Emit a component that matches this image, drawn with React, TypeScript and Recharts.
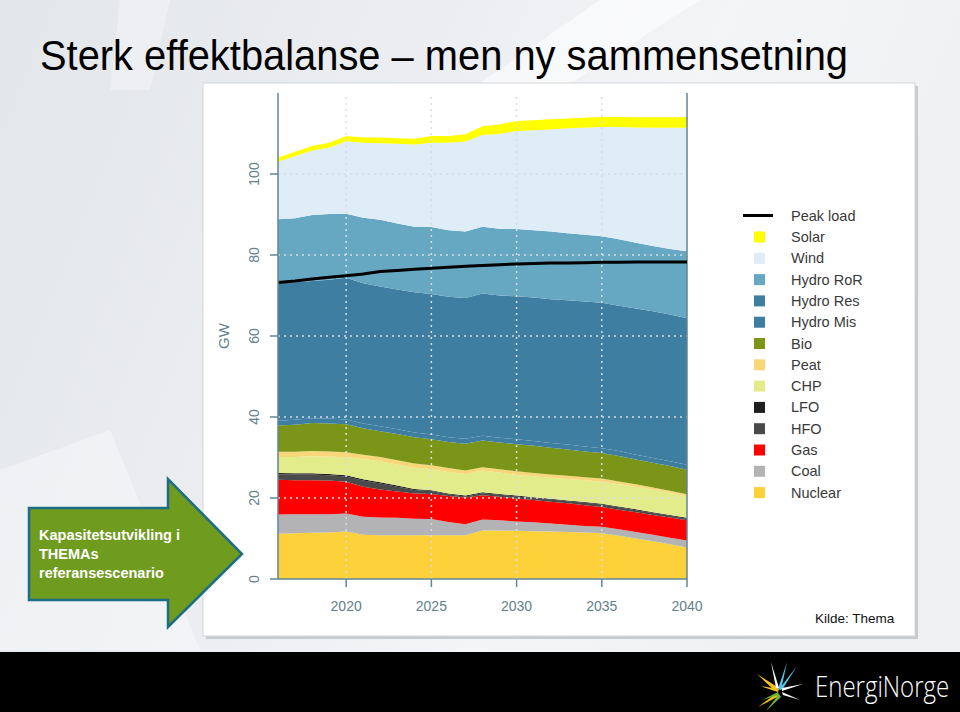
import React from "react";
import { ComposedChart, Area, Line, XAxis, YAxis, ReferenceLine } from "recharts";

const years = [2016, 2017, 2018, 2019, 2020, 2021, 2022, 2023, 2024, 2025, 2026, 2027, 2028, 2029, 2030, 2031, 2032, 2033, 2034, 2035, 2036, 2037, 2038, 2039, 2040];
const nuclear = [11.2, 11.3, 11.4, 11.5, 11.7, 10.9, 10.8, 10.8, 10.8, 10.8, 10.8, 10.8, 12.0, 12.0, 11.9, 11.8, 11.7, 11.6, 11.5, 11.3, 10.7, 10.0, 9.3, 8.6, 7.8];
const coal = [4.7, 4.7, 4.6, 4.5, 4.5, 4.5, 4.4, 4.3, 4.1, 4.0, 3.3, 2.7, 2.7, 2.5, 2.3, 2.2, 2.0, 1.8, 1.6, 1.6, 1.6, 1.6, 1.6, 1.6, 1.7];
const gas = [8.6, 8.4, 8.4, 8.3, 7.8, 7.4, 6.9, 6.5, 6.2, 6.2, 6.4, 6.6, 6.0, 5.8, 5.7, 5.5, 5.4, 5.3, 5.1, 4.9, 4.8, 4.9, 4.9, 5.0, 5.0];
const hfo = [1.3, 1.4, 1.4, 1.3, 1.3, 1.5, 1.5, 1.2, 0.9, 0.7, 0.4, 0.3, 0.5, 0.5, 0.5, 0.5, 0.5, 0.5, 0.6, 0.6, 0.6, 0.5, 0.5, 0.4, 0.4];
const lfo = [0.4, 0.3, 0.3, 0.3, 0.3, 0.3, 0.3, 0.3, 0.2, 0.2, 0.2, 0.2, 0.2, 0.2, 0.2, 0.2, 0.2, 0.2, 0.2, 0.2, 0.2, 0.2, 0.2, 0.2, 0.2];
const chp = [3.9, 4.0, 4.2, 4.3, 4.5, 5.0, 5.2, 5.2, 5.3, 5.2, 5.3, 5.3, 5.4, 5.3, 5.1, 5.2, 5.2, 5.3, 5.4, 5.4, 5.5, 5.6, 5.6, 5.5, 5.3];
const peat = [1.3, 1.3, 1.3, 1.3, 1.2, 1.1, 1.0, 1.0, 1.0, 1.0, 1.0, 0.9, 0.8, 0.8, 0.9, 0.8, 0.8, 0.8, 0.7, 0.8, 0.7, 0.6, 0.5, 0.5, 0.5];
const bio = [6.5, 6.7, 6.9, 6.9, 6.9, 6.5, 6.4, 6.5, 6.5, 6.4, 6.4, 6.6, 6.6, 6.6, 6.7, 6.7, 6.6, 6.5, 6.4, 6.3, 6.3, 6.1, 6.1, 6.1, 6.1];
const hydroMis = [1.2, 1.2, 1.2, 1.2, 1.2, 1.2, 1.2, 1.2, 1.2, 1.2, 1.2, 1.2, 1.2, 1.2, 1.2, 1.2, 1.2, 1.2, 1.2, 1.2, 1.2, 1.2, 1.2, 1.2, 1.2];
const hydroRes = [33.9, 34.0, 33.9, 34.3, 35.0, 34.6, 34.5, 34.5, 34.6, 34.7, 34.7, 34.8, 35.1, 35.1, 35.3, 35.4, 35.5, 35.6, 35.8, 35.9, 35.9, 36.1, 36.2, 36.2, 36.2];
const hydroRoR = [15.8, 15.8, 16.3, 16.2, 15.8, 16.2, 16.5, 16.3, 16.2, 16.5, 16.4, 16.4, 16.5, 16.5, 16.6, 16.6, 16.7, 16.6, 16.5, 16.4, 16.4, 16.2, 16.1, 16.2, 16.5];
const wind = [14.2, 15.3, 15.9, 16.4, 17.9, 18.5, 18.9, 19.7, 20.3, 20.8, 21.6, 22.2, 22.6, 23.4, 24.2, 24.7, 25.2, 25.9, 26.4, 27.0, 27.7, 28.5, 29.2, 29.9, 30.5];
const solar = [1.0, 1.1, 1.1, 1.2, 1.3, 1.3, 1.4, 1.3, 1.4, 1.7, 1.7, 1.8, 2.2, 2.3, 2.5, 2.5, 2.5, 2.4, 2.5, 2.5, 2.5, 2.5, 2.6, 2.6, 2.6];
const peakLoad = [73.2, 73.6, 74.1, 74.5, 74.9, 75.3, 75.9, 76.2, 76.5, 76.7, 77.0, 77.2, 77.4, 77.6, 77.8, 77.9, 78.0, 78.0, 78.1, 78.2, 78.2, 78.3, 78.3, 78.3, 78.3];

const xTicks = [2020, 2025, 2030, 2035, 2040];
const yTicks = [0, 20, 40, 60, 80, 100];
const gridYears = [2020, 2025, 2030, 2035];
const gridValues = [20, 40, 60, 80, 100];

const seriesKeys = ["nuclear", "coal", "gas", "hfo", "lfo", "chp", "peat", "bio", "hydroMis", "hydroRes", "hydroRoR", "wind", "solar"];
const seriesNames = ["Nuclear", "Coal", "Gas", "HFO", "LFO", "CHP", "Peat", "Bio", "Hydro Mis", "Hydro Res", "Hydro RoR", "Wind", "Solar"];
const seriesColors = ["#fdd13a", "#b3b3b6", "#ff0000", "#4a4a4a", "#1e1e1e", "#e3ec8a", "#f8d77a", "#7a9518", "#3e7fa1", "#3e7fa1", "#66a7c2", "#deedf7", "#ffff00"];
const seriesValues = [nuclear, coal, gas, hfo, lfo, chp, peat, bio, hydroMis, hydroRes, hydroRoR, wind, solar];

const data = years.map((year, i) => {
  const row: any = { year, peakLoad: peakLoad[i] };
  seriesKeys.forEach((k, j) => {
    row[k] = seriesValues[j][i];
  });
  return row;
});

const FONT = "'Liberation Sans', Arial, sans-serif";
const AXIS_COLOR = "#628693";
const TICK_COLOR = "#62808d";
const GRID_COLOR = "#d6dee3";

const YTick = (props: any) => {
  const { x, y, payload } = props;
  return (
    <text
      x={x}
      y={y}
      transform={`rotate(-90 ${x} ${y})`}
      textAnchor="middle"
      fill={TICK_COLOR}
      fontSize={14}
      fontFamily={FONT}
    >
      {payload.value}
    </text>
  );
};

const legendOrder = [12, 11, 10, 9, 8, 7, 6, 5, 4, 3, 2, 1, 0];

export default function App() {
  return (
    <div style={{ position: "absolute", left: 0, top: 0, width: 960, height: 712, overflow: "hidden" }}>
      <svg width={960} height={712} style={{ position: "absolute", left: 0, top: 0 }}>
        <defs>
          <linearGradient id="bg" x1="0" y1="0" x2="1" y2="0.3">
            <stop offset="0" stopColor="#e3e6ea" />
            <stop offset="0.45" stopColor="#eceef1" />
            <stop offset="0.7" stopColor="#f4f5f7" />
            <stop offset="1" stopColor="#eef0f2" />
          </linearGradient>
        </defs>
        <rect x={0} y={0} width={960} height={712} fill="url(#bg)" />
        <polygon points="600,0 700,0 560,90 470,90" fill="#ffffff" opacity={0.55} />
        <polygon points="0,470 110,430 200,650 0,650" fill="#ffffff" opacity={0.35} />
        <polygon points="120,0 170,0 150,90 110,90" fill="#ffffff" opacity={0.3} />
        <text
          x={40}
          y={70}
          fontSize={43}
          fontFamily="'Liberation Sans Narrow', 'Liberation Sans', Arial, sans-serif"
          fill="#000"
          textLength={808}
          lengthAdjust="spacingAndGlyphs"
        >
          Sterk effektbalanse – men ny sammensetning
        </text>
        <rect x={206} y={86} width={712} height={553} fill="#aeb2b6" opacity={0.6} />
        <rect x={203} y={83} width={712} height={553} fill="#ffffff" stroke="#d4d6d8" strokeWidth={1} />
        <text
          x={229}
          y={336}
          transform="rotate(-90 229 336)"
          textAnchor="middle"
          fontSize={15}
          fontFamily={FONT}
          fill={TICK_COLOR}
        >
          GW
        </text>
        {legendOrder.map((idx, r) => {
          const cy = 237 + r * 21.3;
          return (
            <g key={seriesKeys[idx]}>
              <rect x={754} y={cy - 5.5} width={11} height={11} fill={seriesColors[idx]} />
              <text x={791} y={cy + 5} fontSize={14.5} fontFamily={FONT} fill="#3a3a3a">
                {seriesNames[idx]}
              </text>
            </g>
          );
        })}
        <line x1={743} y1={215.5} x2={773} y2={215.5} stroke="#000" strokeWidth={3} />
        <text x={791} y={221} fontSize={14.5} fontFamily={FONT} fill="#3a3a3a">
          Peak load
        </text>
        <text x={815} y={623} fontSize={13.5} fontFamily={FONT} fill="#111">
          Kilde: Thema
        </text>
        <polygon
          points="29,508 168,508 168,479 242,554 168,627 168,600 29,600"
          fill="#6f9b1f"
          stroke="#1d6e84"
          strokeWidth={2.5}
          strokeLinejoin="miter"
        />
        <text fontSize={14.5} fontWeight="bold" fontFamily={FONT} fill="#ffffff">
          <tspan x={39} y={540}>Kapasitetsutvikling i</tspan>
          <tspan x={39} y={559}>THEMAs</tspan>
          <tspan x={39} y={578}>referansescenario</tspan>
        </text>
        <rect x={0} y={652} width={960} height={60} fill="#000000" />
        <g>
          <polygon points="757,674 779,688 775,691" fill="#f5c21b" />
          <polygon points="760,686 779,689 778,692" fill="#f5c21b" />
          <polygon points="758,707 777,693 779,696" fill="#f5c21b" />
          <polygon points="766,711 779,694 781,697" fill="#6cb33f" />
          <polygon points="762,700 778,692 779,695" fill="#6cb33f" />
          <polygon points="787,662 781,690 778,689" fill="#5ac3ea" />
          <polygon points="797,666 782,690 780,688" fill="#5ac3ea" />
          <polygon points="803,684 782,691 782,688" fill="#ffffff" />
          <polygon points="800,700 782,692 783,695" fill="#ffffff" />
          <polygon points="771,662 779,688 776,688" fill="#ffffff" />
        </g>
        <text
          x={0}
          y={0}
          transform="translate(815 697) scale(0.8 1)"
          fontSize={30}
          fontFamily="'Open Sans', 'Noto Sans', sans-serif"
          fontWeight={300}
          fill="#ffffff"
        >
          EnergiNorge
        </text>
      </svg>
      <div style={{ position: "absolute", left: 203, top: 83, width: 712, height: 553 }}>
        <ComposedChart
          width={712}
          height={553}
          data={data}
          margin={{ top: 10, right: 228, left: 35, bottom: 27 }}
        >
          <XAxis
            dataKey="year"
            type="number"
            domain={[2016, 2040]}
            ticks={xTicks}
            allowDataOverflow
            height={30}
            tickSize={8}
            tickMargin={14}
            stroke={AXIS_COLOR}
            strokeWidth={1.5}
            tick={{ fill: TICK_COLOR, fontSize: 14, fontFamily: FONT }}
          />
          <YAxis
            type="number"
            domain={[0, 120]}
            ticks={yTicks}
            allowDataOverflow
            width={40}
            tickSize={8}
            tickMargin={11}
            stroke={AXIS_COLOR}
            strokeWidth={1.5}
            tick={<YTick />}
          />
          {seriesKeys.map((k, j) => (
            <Area
              key={k}
              dataKey={k}
              name={seriesNames[j]}
              type="linear"
              stackId="cap"
              fill={seriesColors[j]}
              fillOpacity={1}
              stroke="none"
              isAnimationActive={false}
              dot={false}
              activeDot={false}
            />
          ))}
          {gridYears.map((yr) => (
            <ReferenceLine
              key={"gx" + yr}
              x={yr}
              stroke={GRID_COLOR}
              strokeWidth={1.5}
              strokeDasharray="2 4"
            />
          ))}
          {gridValues.map((v) => (
            <ReferenceLine
              key={"gy" + v}
              y={v}
              stroke={GRID_COLOR}
              strokeWidth={1.5}
              strokeDasharray="2 4"
            />
          ))}
          <ReferenceLine x={2040} stroke={AXIS_COLOR} strokeWidth={1.5} />
          <Line
            dataKey="peakLoad"
            name="Peak load"
            type="linear"
            stroke="#000000"
            strokeWidth={3}
            dot={false}
            activeDot={false}
            isAnimationActive={false}
          />
        </ComposedChart>
      </div>
    </div>
  );
}
